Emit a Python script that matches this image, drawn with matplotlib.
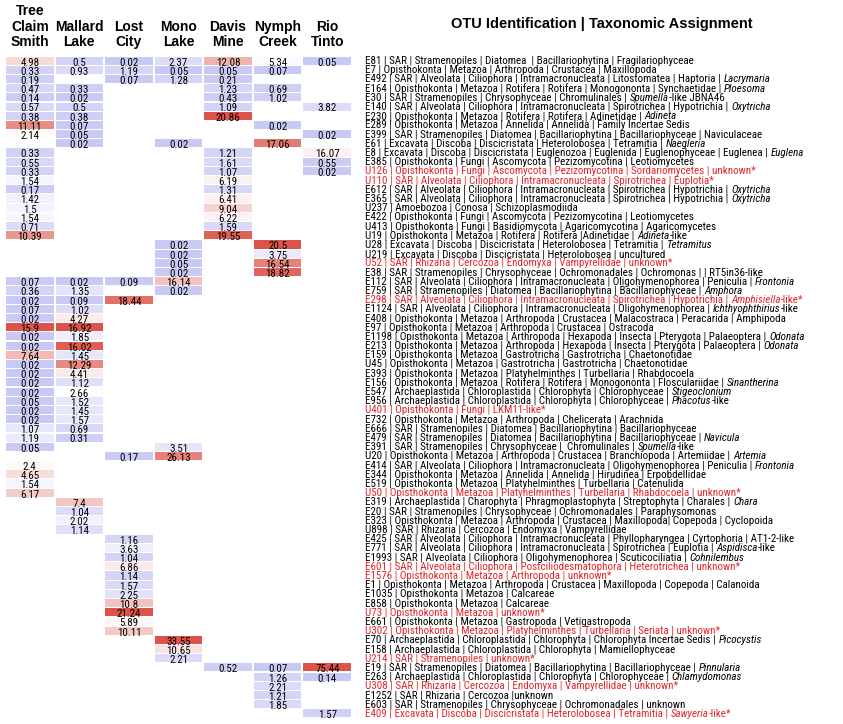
import numpy as np
import matplotlib
matplotlib.use("Agg")
import matplotlib.pyplot as plt
import matplotlib.transforms as mtransforms
from matplotlib.colors import LinearSegmentedColormap, TwoSlopeNorm
from matplotlib import font_manager as fm

N = None

# ---------------- data (72 OTU rows, None = absent) ----------------
tree_claim_smith = ([4.98, 0.33, 0.19, 0.47, 0.14, 0.57, 0.38, 11.11, 2.14, N,
                     0.33, 0.55, 0.33, 1.54, 0.17, 1.42, 1.5, 1.54, 0.71, 10.39,
                     N, N, N, N,
                     0.07, 0.36, 0.02, 0.07, 0.02, 15.9, 0.02, 0.02, 7.64, 0.02,
                     0.02, 0.02, 0.02, 0.05, 0.02, 0.02, 1.07, 1.19, 0.05, N,
                     2.4, 4.65, 1.54, 6.17] + [N] * 24)
mallard_lake = ([0.5, 0.93, N, 0.33, 0.02, 0.5, 0.38, 0.07, 0.05, 0.02]
                + [N] * 14 +
                [0.02, 1.35, 0.09, 1.02, 4.27, 16.92, 1.85, 16.02, 1.45, 12.29,
                 4.41, 1.12, 2.66, 1.52, 1.45, 1.57, 0.69, 0.31]
                + [N] * 6 + [7.4, 1.04, 2.02, 1.14] + [N] * 20)
lost_city = ([0.02, 1.19, 0.07] + [N] * 21 + [0.09, N, 18.44] + [N] * 16 +
             [0.17] + [N] * 8 +
             [1.16, 3.63, 1.04, 6.86, 1.14, 1.57, 2.25, 10.8, 21.24, 5.89, 10.11]
             + [N] * 9)
mono_lake = ([2.37, 0.05, 1.28] + [N] * 6 + [0.02] + [N] * 10 +
             [0.02, 0.02, 0.05, 0.02, 16.14, 0.02] + [N] * 16 +
             [3.51, 26.13] + [N] * 19 + [33.55, 10.65, 2.21] + [N] * 6)
davis_mine = ([12.08, 0.05, 0.21, 1.23, 0.43, 1.09, 20.86, N, N, N,
               1.21, 1.61, 1.07, 6.19, 1.31, 6.41, 9.04, 6.22, 1.59, 19.55]
              + [N] * 46 + [0.52] + [N] * 5)
nymph_creek = ([5.34, 0.07, N, 0.69, 1.02, N, N, 0.02, N, 17.06] + [N] * 10 +
               [20.5, 3.75, 16.54, 18.82] + [N] * 42 +
               [0.07, 1.26, 2.21, 1.21, 1.85, N])
rio_tinto = ([0.05, N, N, N, N, 3.82, N, N, 0.02, N, 16.07, 0.55, 0.02]
             + [N] * 53 + [75.44, 0.14, N, N, N, 1.57])

site_headers = ["Tree\nClaim\nSmith", "Mallard\nLake", "Lost\nCity", "Mono\nLake",
                "Davis\nMine", "Nymph\nCreek", "Rio\nTinto"]

otu_labels = [
    "E81 | SAR | Stramenopiles | Diatomea  | Bacillariophytina | Fragilariophyceae",
    "E7 | Opisthokonta | Metazoa | Arthropoda | Crustacea | Maxillopoda",
    "E492 | SAR | Alveolata | Ciliophora | Intramacronucleata | Litostomatea | Haptoria | _Lacrymaria_",
    "E164 | Opisthokonta | Metazoa | Rotifera | Rotifera | Monogononta | Synchaetidae | _Ploesoma_",
    "E30 | SAR | Stramenopiles | Chrysophyceae | Chromulinales | _Spumella_-like JBNA46",
    "E140 | SAR | Alveolata | Ciliophora | Intramacronucleata | Spirotrichea | Hypotrichia | _Oxytricha_",
    "E230 | Opisthokonta | Metazoa | Rotifera | Rotifera | Adinetidae | _Adineta_",
    "E289 | Opisthokonta | Metazoa | Annelida | Annelida | Family Incertae Sedis",
    "E399 | SAR | Stramenopiles | Diatomea | Bacillariophytina | Bacillariophyceae | Naviculaceae",
    "E61 | Excavata | Discoba | Discicristata | Heterolobosea | Tetramitia | _Naegleria_",
    "E8 | Excavata | Discoba | Discicristata | Euglenozoa | Euglenida | Euglenophyceae | Euglenea | _Euglena_",
    "E385 | Opisthokonta | Fungi | Ascomycota | Pezizomycotina | Leotiomycetes",
    "U126 | Opisthokonta | Fungi | Ascomycota | Pezizomycotina | Sordariomycetes | unknown*",
    "U110 | SAR | Alveolata | Ciliophora | Intramacronucleata | Spirotrichea | Euplotia*",
    "E612 | SAR | Alveolata | Ciliophora | Intramacronucleata | Spirotrichea | Hypotrichia | _Oxytricha_",
    "E365 | SAR | Alveolata | Ciliophora | Intramacronucleata | Spirotrichea | Hypotrichia | _Oxytricha_",
    "U237 | Amoebozoa | Conosa | Schizoplasmodiida",
    "E422 | Opisthokonta | Fungi | Ascomycota | Pezizomycotina | Leotiomycetes",
    "U413 | Opisthokonta | Fungi | Basidiomycota | Agaricomycotina | Agaricomycetes",
    "U19 | Opisthokonta | Metazoa | Rotifera | Rotifera |Adinetidae | _Adineta_-like",
    "U28 | Excavata | Discoba | Discicristata | Heterolobosea | Tetramitia | _Tetramitus_",
    "U219 | Excavata | Discoba | Discicristata | Heterolobosea | uncultured",
    "U52 | SAR | Rhizaria | Cercozoa | Endomyxa | Vampyrellidae | unknown*",
    "E38 | SAR | Stramenopiles | Chrysophyceae | Ochromonadales | Ochromonas | | RT5in36-like",
    "E112 | SAR | Alveolata | Ciliophora | Intramacronucleata | Oligohymenophorea | Peniculia | _Frontonia_",
    "E759 | SAR | Stramenopiles | Diatomea | Bacillariophytina | Bacillariophyceae | _Amphora_",
    "E298 | SAR | Alveolata | Ciliophora | Intramacronucleata | Spirotrichea | Hypotrichia | _Amphisiella_-like*",
    "E1124 | SAR | Alveolata | Ciliophora | Intramacronucleata | Oligohymenophorea | _Ichthyophthirius_-like",
    "E408 | Opisthokonta | Metazoa | Arthropoda | Crustacea | Malacostraca | Peracarida | Amphipoda",
    "E97 | Opisthokonta | Metazoa | Arthropoda | Crustacea | Ostracoda",
    "E1198 | Opisthokonta | Metazoa | Arthropoda | Hexapoda | Insecta | Pterygota | Palaeoptera | _Odonata_",
    "E213 | Opisthokonta | Metazoa | Arthropoda | Hexapoda | Insecta | Pterygota | Palaeoptera | _Odonata_",
    "E159 | Opisthokonta | Metazoa | Gastrotricha | Gastrotricha | Chaetonotidae",
    "U45 | Opisthokonta | Metazoa | Gastrotricha | Gastrotricha | Chaetonotidae",
    "E393 | Opisthokonta | Metazoa | Platyhelminthes | Turbellaria | Rhabdocoela",
    "E156 | Opisthokonta | Metazoa | Rotifera | Rotifera | Monogononta | Flosculariidae | _Sinantherina_",
    "E547 | Archaeplastida | Chloroplastida | Chlorophyta | Chlorophyceae | _Stigeoclonium_",
    "E956 | Archaeplastida | Chloroplastida | Chlorophyta | Chlorophyceae | _Phacotus_-like",
    "U401 | Opisthokonta | Fungi | LKM11-like*",
    "E732 | Opisthokonta | Metazoa | Arthropoda | Chelicerata | Arachnida",
    "E666 | SAR | Stramenopiles | Diatomea | Bacillariophytina | Bacillariophyceae",
    "E479 | SAR | Stramenopiles | Diatomea | Bacillariophytina | Bacillariophyceae | _Navicula_",
    "E391 | SAR | Stramenopiles | Chrysophyceae |  Chromulinales | _Spumella_-like",
    "U20 | Opisthokonta | Metazoa | Arthropoda | Crustacea | Branchiopoda | Artemiidae | _Artemia_",
    "E414 | SAR | Alveolata | Ciliophora | Intramacronucleata | Oligohymenophorea | Peniculia | _Frontonia_",
    "E344 | Opisthokonta | Metazoa | Annelida | Annelida | Hirudinea | Erpobdellidae",
    "E519 | Opisthokonta | Metazoa | Platyhelminthes | Turbellaria | Catenulida",
    "U50 | Opisthokonta | Metazoa | Platyhelminthes | Turbellaria | Rhabdocoela | unknown*",
    "E319 | Archaeplastida | Charophyta | Phragmoplastophyta | Streptophyta | Charales | _Chara_",
    "E20 | SAR | Stramenopiles | Chrysophyceae | Ochromonadales | Paraphysomonas",
    "E323 | Opisthokonta | Metazoa | Arthropoda | Crustacea | Maxillopoda| Copepoda | Cyclopoida",
    "U898 | SAR | Rhizaria | Cercozoa | Endomyxa | Vampyrellidae",
    "E425 | SAR | Alveolata | Ciliophora | Intramacronucleata | Phyllopharyngea | Cyrtophoria | AT1-2-like",
    "E771 | SAR | Alveolata | Ciliophora | Intramacronucleata | Spirotrichea | Euplotia | _Aspidisca_-like",
    "E1993 | SAR | Alveolata | Ciliophora | Oligohymenophorea | Scuticociliatia | _Cohnilembus_",
    "E601 | SAR | Alveolata | Ciliophora | Postciliodesmatophora | Heterotrichea | unknown*",
    "E1576 | Opisthokonta | Metazoa | Arthropoda | unknown*",
    "E1 | Opisthokonta | Metazoa | Arthropoda | Crustacea | Maxillopoda | Copepoda | Calanoida",
    "E1035 | Opisthokonta | Metazoa | Calcareae",
    "E858 | Opisthokonta | Metazoa | Calcareae",
    "U73 | Opisthokonta | Metazoa | unknown*",
    "E661 | Opisthokonta | Metazoa | Gastropoda | Vetigastropoda",
    "U302 | Opisthokonta | Metazoa | Platyhelminthes | Turbellaria | Seriata | unknown*",
    "E70 | Archaeplastida | Chloroplastida | Chlorophyta | Chlorophyta Incertae Sedis | _Picocystis_",
    "E158 | Archaeplastida | Chloroplastida | Chlorophyta | Mamiellophyceae",
    "U214 | SAR | Stramenopiles | unknown*",
    "E19 | SAR | Stramenopiles | Diatomea | Bacillariophytina | Bacillariophyceae | _Pinnularia_",
    "E263 | Archaeplastida | Chloroplastida | Chlorophyta | Chlorophyceae | _Chlamydomonas_",
    "U308 | SAR | Rhizaria | Cercozoa | Endomyxa | Vampyrellidae | unknown*",
    "E1252 | SAR | Rhizaria | Cercozoa |unknown",
    "E603 | SAR | Stramenopiles | Chrysophyceae | Ochromonadales | unknown",
    "E409 | Excavata | Discoba | Discicristata | Heterolobosea | Tetramitia | _Sawyeria_-like*",
]

red_otus = ["U126", "U110", "U52", "E298", "U401", "U50", "E601", "E1576",
            "U73", "U302", "U214", "U308", "E409"]

columns_data = [tree_claim_smith, mallard_lake, lost_city, mono_lake,
                davis_mine, nymph_creek, rio_tinto]

# ---------------- fonts ----------------
_fonts = fm.fontManager.ttflist
_names = {f.name for f in _fonts}
NARROW = None
for cand in ["Liberation Sans Narrow", "Arial Narrow", "Roboto Condensed",
             "Archivo Narrow", "IBM Plex Sans Condensed"]:
    if cand in _names:
        NARROW = dict(family=cand)
        break
if NARROW is None:
    NARROW = dict(family="DejaVu Sans", fontstretch="condensed")

# ---------------- figure ----------------
W, H = 843, 724
fig = plt.figure(figsize=(W / 100, H / 100), dpi=100)
renderer = fig.canvas.get_renderer()


def text_width(s, size, **kw):
    t = fig.text(0, 0, s, fontsize=size, **kw)
    w = t.get_window_extent(renderer).width
    t.remove()
    return w


# fit label size so that a few reference rows get their reference widths
_fit_rows = [0, 8, 10]
_fit_target = 335 + 355 + 470
_w10 = sum(text_width(otu_labels[i].replace("_", ""), 10, **NARROW) for i in _fit_rows)
LFS = 10 * _fit_target / _w10
VFS = max(10 * 21 / text_width("12.08", 10, **NARROW), LFS)

top_px, bot_px, left_px, right_px = 56, 718, 5, 352
ax = fig.add_axes([left_px / W, 1 - bot_px / H, (right_px - left_px) / W,
                   (bot_px - top_px) / H])
nrows = len(otu_labels)
ncols = len(columns_data)
ax.set_xlim(0, ncols)
ax.set_ylim(nrows, 0)
ax.axis("off")

cmap = LinearSegmentedColormap.from_list("blwr", ["#c9c9f5", "#ffffff", "#dc5349"])
rows = np.arange(nrows) + 0.5

for j, col in enumerate(columns_data):
    vals = np.array([np.nan if v is None else v for v in col], dtype=float)
    m = ~np.isnan(vals)
    vmin, vmax, vc = vals[m].min(), vals[m].max(), vals[m].mean()
    norm = TwoSlopeNorm(vcenter=vc, vmin=vmin, vmax=vmax)
    ax.barh(rows[m], 0.96, left=j + 0.02, height=0.88,
            color=cmap(norm(vals[m])), linewidth=0)
    for r, v in zip(rows[m], vals[m]):
        ax.text(j + 0.5, r + 0.1, f"{v:g}", ha="center", va="center_baseline",
                fontsize=VFS, color="black", **NARROW)

# column headers
hdr_trans = mtransforms.blended_transform_factory(ax.transData, fig.transFigure)
for j, name in enumerate(site_headers):
    ax.text(j + 0.5, 1 - 49 / H, name, transform=hdr_trans, ha="center",
            va="bottom", ma="center", fontsize=10, fontweight="bold",
            family="Liberation Sans", linespacing=1.12)
fig.text(602 / W, 1 - 24 / H, "OTU Identification | Taxonomic Assignment",
         ha="center", va="center", fontsize=10.5, fontweight="bold",
         family="Liberation Sans")

# row labels with italic genus names
lab_trans = mtransforms.blended_transform_factory(ax.transAxes, ax.transData)
lab_x = (365 - left_px) / (right_px - left_px)
space_pt = 0.25 * LFS

for r, label in zip(rows, otu_labels):
    color = "#e3262b" if label.split(" |")[0] in red_otus else "black"
    parts = label.split("_")
    prev = None
    pending = 0.0
    for k, part in enumerate(parts):
        if part == "":
            continue
        style = "italic" if k % 2 == 1 else "normal"
        stripped = part.rstrip(" ")
        ntrail = len(part) - len(stripped)
        if prev is None:
            prev = ax.text(lab_x, r + 0.05, stripped, transform=lab_trans,
                           ha="left", va="center", fontsize=LFS, color=color,
                           fontstyle=style, **NARROW)
        else:
            prev = ax.annotate(stripped, xy=(1, 0.5), xycoords=prev,
                               xytext=(pending, 0), textcoords="offset points",
                               ha="left", va="center", fontsize=LFS,
                               color=color, fontstyle=style, **NARROW)
        pending = ntrail * space_pt

fig.savefig("out.png", dpi=100)
